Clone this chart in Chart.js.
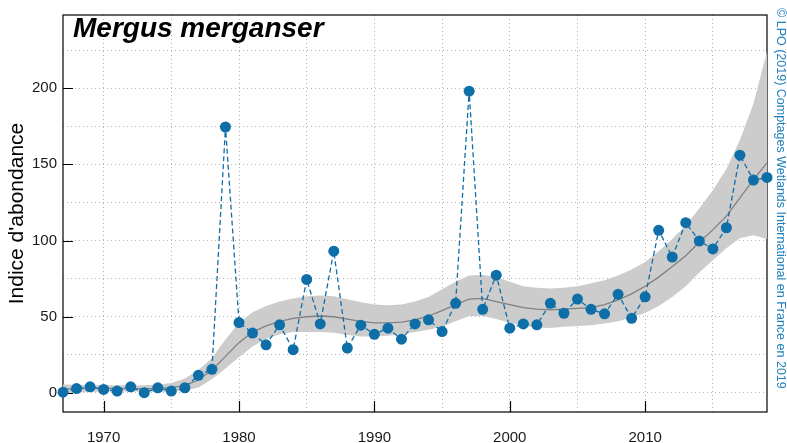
<!DOCTYPE html>
<html>
<head>
<meta charset="utf-8">
<script src="https://cdn.jsdelivr.net/npm/chart.js@4/dist/chart.umd.min.js"></script>
<style>
  html, body { margin: 0; padding: 0; background: #fff; }
  #chart { display: block; }
</style>
</head>
<body>
<canvas id="chart" width="787" height="443"></canvas>
<script>
// Comptages annuels et tendance lissée (avec intervalle)
const years = [];
for (let y = 1967; y <= 2019; y++) years.push(y);

const counts = [
    0.5, 2.9, 4.0, 2.3, 1.2, 4.0, 0.2, 3.4, 1.2, 3.4,
    11.6, 15.5, 174.5, 46.2, 39.3, 31.6, 44.7, 28.4, 74.5, 45.3,
    93, 29.5, 44.5, 38.5, 42.5, 35.3, 45.3, 48, 40.3, 58.8,
    198, 54.9, 77.3, 42.5, 45.3, 44.7, 58.8, 52.3, 61.6, 54.9,
    51.9, 64.7, 49, 63.1, 106.7, 89.2, 111.7, 99.7, 94.5, 108.4,
    156, 139.7, 141.4
];

const trend = [
    2.5, 2.8, 3.0, 3.0, 3.0, 2.9, 2.9, 3.0, 3.5, 5.0,
    8.5, 15, 24, 33, 40, 44, 47, 49, 50, 50.5,
    50, 48.5, 47, 46, 46, 46.5, 48, 50.5, 54, 58,
    61.5, 62, 60, 58, 56, 55, 54.5, 55, 55.5, 56,
    58, 61, 65, 70, 76, 83, 90, 99, 107, 116,
    128, 140, 151
];

const upper = [
    5.5, 5.3, 5.2, 5.0, 5.0, 4.9, 5.0, 5.3, 6.5, 9.5,
    15, 23, 35, 46, 53, 57, 60, 62, 63.5, 64,
    63.5, 61.5, 59.5, 58, 57.5, 58, 60, 63, 68, 73,
    77, 77.5, 76, 73, 70, 69, 68.5, 69, 70, 72,
    74, 77, 81, 86, 93, 101, 110, 121, 133, 147,
    166, 190, 224
];

const lower = [
    0, 0.3, 0.7, 0.9, 1.0, 0.9, 0.8, 0.7, 0.8, 1.5,
    3.5, 9, 16, 23.5, 30.5, 35.5, 38.5, 40, 40, 40,
    39.5, 38, 37, 37, 37.5, 38.5, 40, 41.5, 43.5, 47,
    50.5, 50.5, 48.5, 46, 44, 43, 42.7, 43.5, 44, 44.5,
    45.5, 47, 49.5, 52.5, 57, 63, 70, 79, 87, 95,
    101.5, 103.5, 101
];

const xGrid = [1970, 1975, 1980, 1985, 1990, 1995, 2000, 2005, 2010, 2015];
const xLabels = [1970, 1980, 1990, 2000, 2010];
const yGrid = [0, 25, 50, 75, 100, 125, 150, 175, 200, 225];
const yLabels = [0, 50, 100, 150, 200];

const BLUE = '#0e6ea8';
const FONT = "'Liberation Sans', Arial, Helvetica, sans-serif";

const pts = arr => arr.map((v, i) => ({ x: years[i], y: v }));

// cadre + graduations intérieures
const framePlugin = {
    id: 'frame',
    beforeDatasetsDraw(chart) {
        const { ctx, chartArea: a, scales } = chart;
        ctx.save();
        ctx.strokeStyle = '#000';
        ctx.lineWidth = 1.2;
        ctx.strokeRect(a.left, a.top, a.right - a.left, a.bottom - a.top);
        ctx.beginPath();
        xLabels.forEach(v => {
            const px = Math.round(scales.x.getPixelForValue(v)) + 0.5;
            ctx.moveTo(px, a.bottom);
            ctx.lineTo(px, a.bottom - 11);
        });
        yLabels.forEach(v => {
            const py = Math.round(scales.y.getPixelForValue(v)) + 0.5;
            ctx.moveTo(a.left, py);
            ctx.lineTo(a.left + 10, py);
        });
        ctx.stroke();
        ctx.restore();
    },
    afterDraw(chart) {
        const { ctx, chartArea: a } = chart;
        ctx.save();
        ctx.fillStyle = '#000';
        ctx.font = "italic bold 28px " + FONT;
        ctx.textBaseline = 'alphabetic';
        ctx.fillText('Mergus merganser', a.left + 10, 37);

        ctx.translate(780, 8);
        ctx.rotate(Math.PI / 2);
        ctx.fillStyle = '#1f80bf';
        ctx.font = "12.5px " + FONT;
        ctx.textBaseline = 'middle';
        ctx.fillText('© LPO (2019) Comptages Wetlands International en France en 2019', 0, 0);
        ctx.restore();
    }
};

new Chart(document.getElementById('chart'), {
    type: 'line',
    data: {
        datasets: [
            {
                label: 'Comptages',
                data: pts(counts),
                borderColor: BLUE,
                borderWidth: 1.3,
                borderDash: [5, 3],
                pointRadius: 5.5,
                pointHoverRadius: 5.5,
                pointBackgroundColor: BLUE,
                pointBorderWidth: 0,
                fill: false,
                clip: false
            },
            {
                label: 'Tendance',
                data: pts(trend),
                borderColor: '#808080',
                borderWidth: 1.3,
                pointRadius: 0,
                fill: false
            },
            {
                label: 'IC haut',
                data: pts(upper),
                borderWidth: 0,
                borderColor: 'rgba(0,0,0,0)',
                backgroundColor: '#cccccc',
                pointRadius: 0,
                fill: '+1'
            },
            {
                label: 'IC bas',
                data: pts(lower),
                borderWidth: 0,
                borderColor: 'rgba(0,0,0,0)',
                pointRadius: 0,
                fill: false
            }
        ]
    },
    options: {
        responsive: false,
        animation: false,
        devicePixelRatio: 1,
        layout: { padding: { top: 12, right: 20, left: 0, bottom: 0 } },
        plugins: {
            legend: { display: false },
            tooltip: { enabled: false }
        },
        scales: {
            x: {
                type: 'linear',
                min: 1967,
                max: 2019,
                afterBuildTicks: s => { s.ticks = xGrid.map(v => ({ value: v })); },
                afterFit: s => { s.height = 31; },
                ticks: {
                    autoSkip: false,
                    maxRotation: 0,
                    padding: 17,
                    color: '#1a1a1a',
                    font: { family: FONT, size: 15 },
                    callback: v => xLabels.includes(v) ? String(v) : ''
                },
                grid: { color: '#b5b5b5', lineWidth: 1, drawTicks: false, borderDash: [1, 3] },
                border: { display: false, dash: [1, 3] }
            },
            y: {
                type: 'linear',
                min: -12.5,
                max: 248,
                afterBuildTicks: s => { s.ticks = yGrid.map(v => ({ value: v })); },
                afterFit: s => { s.width = 63; },
                ticks: {
                    autoSkip: false,
                    padding: 6,
                    color: '#1a1a1a',
                    font: { family: FONT, size: 15 },
                    callback: v => yLabels.includes(v) ? String(v) : ''
                },
                grid: { color: '#b5b5b5', lineWidth: 1, drawTicks: false, borderDash: [1, 3] },
                border: { display: false, dash: [1, 3] },
                title: {
                    display: true,
                    text: "Indice d'abondance",
                    color: '#000',
                    font: { family: FONT, size: 21, lineHeight: 1.2 },
                    padding: { top: 5, bottom: 0 }
                }
            }
        }
    },
    plugins: [framePlugin]
});
</script>
</body>
</html>
